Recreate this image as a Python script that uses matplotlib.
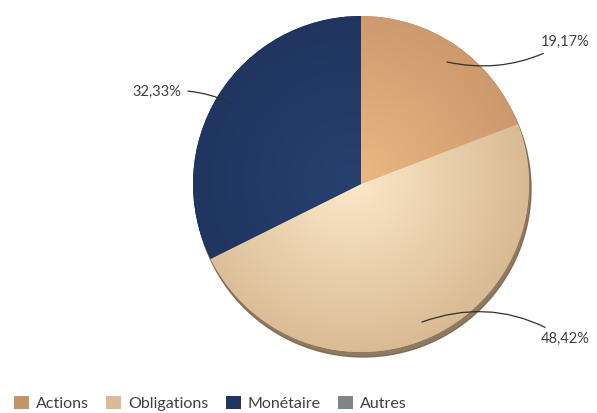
import numpy as np
import matplotlib.pyplot as plt
from matplotlib.colors import LinearSegmentedColormap
from matplotlib.patches import Circle, Patch

# --- data ---
categories = ["Actions", "Obligations", "Monétaire", "Autres"]
values = [19.17, 48.42, 32.33, 0.0]
legend_colors = ["#C4956A", "#DABB95", "#1F3560", "#7F8489"]
# (inner, outer) colours used for the shaded fill of each slice
shade = [("#EDB882", "#C7946A"), ("#FCE9C8", "#D4B58E"),
         ("#27406F", "#1E335C"), ("#8A8F94", "#72777C")]

W, H = 597, 413
cx, cy, r = 361, 413 - 184, 168

fig = plt.figure(figsize=(W / 100, H / 100), dpi=100)
ax = fig.add_axes([0, 0, 1, 1])

# drop shadow below the pie
ax.add_patch(Circle((cx + 2, cy - 5), r, color="#7A6248", alpha=0.85, zorder=0))

wedges, _ = ax.pie(values, colors=legend_colors, startangle=90, counterclock=False,
                   center=(cx, cy), radius=r, frame=True,
                   wedgeprops=dict(linewidth=0))
ax.set_xlim(0, W)
ax.set_ylim(0, H)
ax.set_aspect("equal")
ax.axis("off")

# radial gradient fill, light spot a bit above the centre
gx, gy = np.meshgrid(np.linspace(cx - r, cx + r, 300), np.linspace(cy - r, cy + r, 300))
dist = np.hypot(gx - (cx - 10), gy - (cy + 5)) / r
dist = np.clip(dist, 0, 1.2) / 1.2
for w, (c_in, c_out) in zip(wedges, shade):
    cmap = LinearSegmentedColormap.from_list("s", [c_in, c_out])
    im = ax.imshow(dist, cmap=cmap, extent=(cx - r, cx + r, cy - r, cy + r),
                   origin="lower", zorder=2, vmin=0, vmax=1)
    im.set_clip_path(w)

# percentage labels with curved leader lines
label_pos = [(541, 42, 447, 62, -0.2), (541, 339, 422, 322, 0.25), (181, 92, 231, 103, -0.15)]
for v, (tx, ty, px, py, rad) in zip(values[:3], label_pos):
    txt = f"{v:.2f}%".replace(".", ",")
    ha = "left" if tx > cx else "right"
    ax.annotate(txt, xy=(px, H - py), xytext=(tx, H - ty), ha=ha, va="center",
                fontsize=10.5, color="#404040", family="Lato", zorder=5,
                arrowprops=dict(arrowstyle="-", color="#303030", lw=0.9,
                                shrinkA=3, shrinkB=0,
                                connectionstyle=f"arc3,rad={rad}"))

handles = [Patch(facecolor=c, edgecolor="none") for c in legend_colors]
fig.legend(handles, categories, loc="lower left", bbox_to_anchor=(-0.001, -0.03),
           ncol=4, frameon=False, handlelength=0.95, handleheight=0.95,
           handletextpad=0.45, columnspacing=1.06,
           prop=dict(family="Lato", size=11.5), labelcolor="#404040")

fig.savefig("out.png", dpi=100)
